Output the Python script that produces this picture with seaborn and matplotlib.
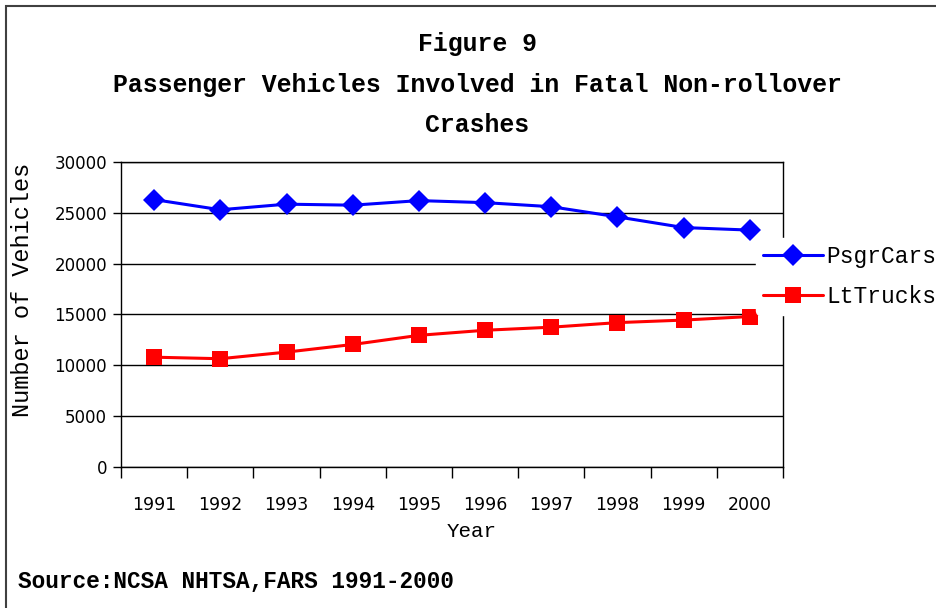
import matplotlib
matplotlib.use("Agg")
import matplotlib.pyplot as plt
import seaborn as sns
import pandas as pd
from matplotlib.patches import Rectangle

years = [1991, 1992, 1993, 1994, 1995, 1996, 1997, 1998, 1999, 2000]
psgr_cars = [26300, 25300, 25850, 25750, 26200, 26000, 25600, 24600, 23550, 23300]
lt_trucks = [10800, 10650, 11300, 12050, 12950, 13450, 13750, 14200, 14450, 14800]
series_names = ["PsgrCars", "LtTrucks"]
y_ticks = [0, 5000, 10000, 15000, 20000, 25000, 30000]

MONO = "Liberation Mono"


def build_frame():
    """Long-form table for seaborn."""
    rows = []
    for name, vals in zip(series_names, [psgr_cars, lt_trucks]):
        for yr, v in zip(years, vals):
            rows.append({"Year": yr, "Vehicles": v, "Series": name})
    return pd.DataFrame(rows)


def plot_figure(df):
    sns.set_theme(style="white")
    plt.rcParams["text.color"] = "black"
    fig = plt.figure(figsize=(9.36, 6.08), dpi=100)
    ax = fig.add_axes([0.1293, 0.2319, 0.7072, 0.5017])

    sns.lineplot(
        data=df, x="Year", y="Vehicles", hue="Series", style="Series",
        hue_order=series_names, style_order=series_names,
        palette={"PsgrCars": "#0000ff", "LtTrucks": "#ff0000"},
        markers={"PsgrCars": "D", "LtTrucks": "s"}, dashes=False,
        markersize=11, markeredgewidth=0, linewidth=2.2, ax=ax, zorder=3,
    )

    ax.set_xlim(years[0] - 0.5, years[-1] + 0.5)
    ax.set_ylim(0, 30000)
    ax.set_yticks(y_ticks)
    ax.set_yticklabels([str(t) for t in y_ticks], fontsize=12, family="DejaVu Sans")
    ax.set_xticks(years)
    ax.set_xticklabels([str(y) for y in years], fontsize=12.5, family="DejaVu Sans")
    ax.set_xticks([y + 0.5 for y in [years[0] - 1] + years], minor=True)
    ax.tick_params(axis="x", which="major", length=0, pad=21, colors="black")
    ax.tick_params(axis="x", which="minor", length=8, width=1, color="black", direction="out", bottom=True)
    ax.tick_params(axis="y", length=6, width=1, color="black", direction="out", left=True, pad=4, colors="black")
    ax.yaxis.grid(True, color="black", linewidth=1)
    ax.set_axisbelow(True)
    for sp in ax.spines.values():
        sp.set_color("black")
        sp.set_linewidth(1)

    ax.set_xlabel("Year", family=MONO, fontsize=15, color="black")
    ax.xaxis.set_label_coords(0.529, -0.18)
    ax.set_ylabel("Number of Vehicles", family=MONO, fontsize=17, color="black")
    ax.yaxis.set_label_coords(-0.131, 0.58)

    handles, labels = ax.get_legend_handles_labels()
    ax.legend(
        handles, labels, loc="center left", bbox_to_anchor=(0.96, 0.625),
        frameon=True, facecolor="white", edgecolor="white", framealpha=1,
        prop={"family": MONO, "size": 16.5}, handlelength=2.6, handletextpad=0.15,
        labelspacing=0.75, borderpad=0.3, borderaxespad=0,
    )

    fig.text(0.51, 0.928, "Figure 9", ha="center", va="center",
             family=MONO, weight="bold", fontsize=17.9)
    fig.text(0.51, 0.861, "Passenger Vehicles Involved in Fatal Non-rollover",
             ha="center", va="center", family=MONO, weight="bold", fontsize=17.9)
    fig.text(0.51, 0.795, "Crashes", ha="center", va="center",
             family=MONO, weight="bold", fontsize=17.9)
    fig.text(0.019, 0.044, "Source:NCSA NHTSA,FARS 1991-2000", ha="left", va="center",
             family=MONO, weight="bold", fontsize=16.4)

    fig.patches.append(Rectangle((0.0065, -0.5), 2.0, 1.49, transform=fig.transFigure,
                                 fill=False, edgecolor="#404040", linewidth=1.5))
    fig.savefig("out.png", dpi=100)
    plt.close(fig)


plot_figure(build_frame())
